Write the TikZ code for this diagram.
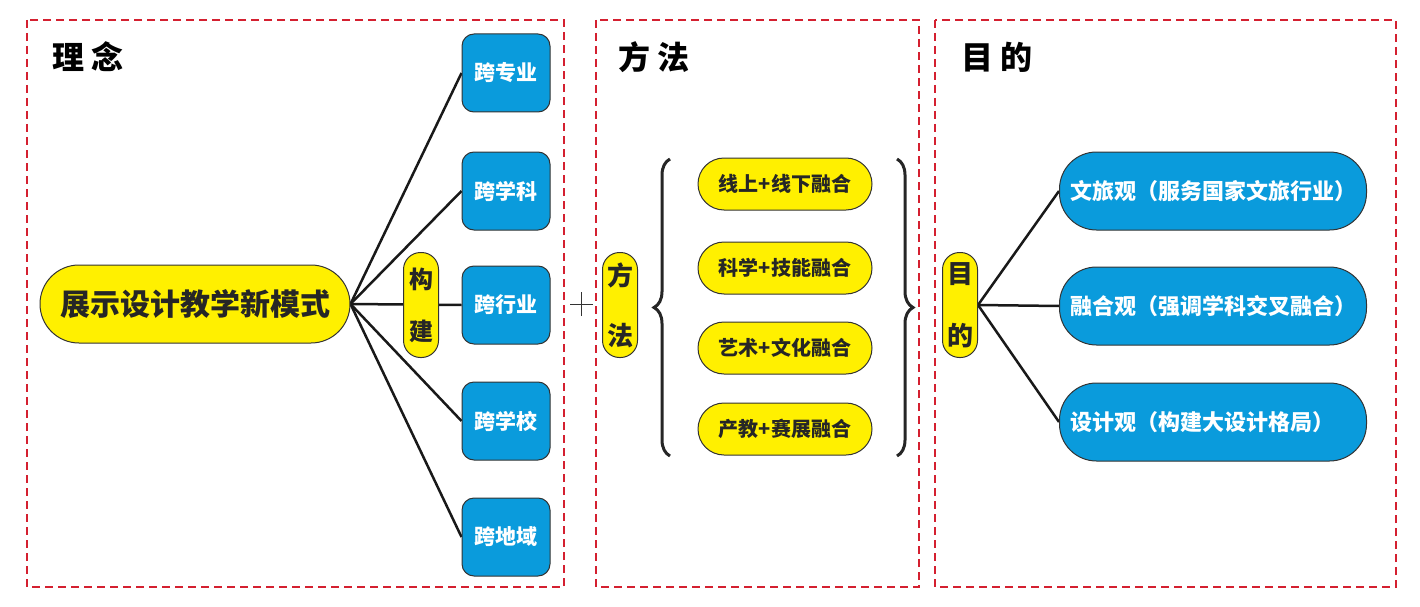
\documentclass[tikz,border=0pt]{standalone}
\usepackage{fontspec}
\setmainfont{Noto Sans CJK SC}[BoldFont={Noto Sans CJK SC Bold}]
\newfontfamily\heavy{Noto Sans CJK SC Black}
\usetikzlibrary{decorations.pathreplacing,backgrounds}
\definecolor{ylw}{HTML}{FFF000}
\definecolor{blu}{HTML}{0A9BDC}
\definecolor{dred}{HTML}{D42030}
\definecolor{edge}{HTML}{333333}
\tikzset{
  frame/.style={draw=dred, line width=2pt, dash pattern=on 8pt off 5pt},
  title/.style={font=\heavy\fontsize{32}{32}\selectfont, text=black, inner sep=0},
  ypill/.style={fill=ylw, draw=edge, line width=1pt, inner sep=0, text=black!85},
  bbox/.style={fill=blu, draw=edge, line width=1pt, inner sep=0, text=white,
    minimum width=88pt, minimum height=78pt, rounded corners=12pt,
    font=\heavy\fontsize{21}{21}\selectfont},
  rpill/.style={fill=blu, draw=edge, line width=1pt, inner sep=0, text=white,
    minimum width=307pt, minimum height=78pt, rounded corners=37pt},
  mpill/.style={ypill, minimum width=174pt, minimum height=52pt, rounded corners=26pt,
    font=\heavy\fontsize{20}{20}\selectfont},
  vpill/.style={ypill, minimum width=35pt, minimum height=105pt, rounded corners=17pt,
    align=center},
  conn/.style={draw=black!90, line width=2.5pt},
  bracestyle/.style={draw=black!85, line width=3pt, decorate,
    decoration={brace, amplitude=16pt, aspect=0.5}},
  rtext/.style={text=white, font=\heavy\fontsize{22}{22}\selectfont, inner sep=0, anchor=west}
}
\begin{document}
\begin{tikzpicture}[x=1pt, y=-1pt]
\useasboundingbox (0,0) rectangle (1420,607);
% frames
\draw[frame] (27,20) rectangle (564,587);
\draw[frame] (596,20) rectangle (919,587);
\draw[frame] (935,20) rectangle (1396,587);
% titles
\node[title] (t1) at (88,57) {理 念};
\node[title] (t2) at (654,57) {方 法};
\node[title] (t3) at (997,57) {目 的};
% left part
\node[ypill, minimum width=310pt, minimum height=78pt, rounded corners=39pt,
  font=\heavy\fontsize{30}{30}\selectfont] (main) at (195,304) {展示设计教学新模式};
\node[vpill, font=\heavy\fontsize{24}{52}\selectfont] (gj) at (421,305) {构\\建};
\node[bbox] (b1) at (506,73) {跨专业};
\node[bbox] (b2) at (506,191) {跨学科};
\node[bbox] (b3) at (506,305) {跨行业};
\node[bbox] (b4) at (506,421) {跨学校};
\node[bbox] (b5) at (506,537) {跨地域};
\begin{pgfonlayer}{background}
\foreach \b in {b1,b2,b3,b4,b5} \draw[conn] (main.east) -- (\b.west);
\end{pgfonlayer}
% plus
\coordinate (pl) at (581,304);
\draw[line width=1pt, black!80] ([xshift=-11pt]pl) -- ([xshift=12pt]pl)
  ([yshift=-12pt]pl) -- ([yshift=12pt]pl);
% middle part
\node[vpill, font=\heavy\fontsize{26}{60}\selectfont] (ff) at (620,305) {方\\法};
\node[mpill] (m1) at (785,184) {线上+线下融合};
\node[mpill] (m2) at (785,268) {科学+技能融合};
\node[mpill] (m3) at (785,348) {艺术+文化融合};
\node[mpill] (m4) at (785,429) {产教+赛展融合};
\coordinate (lb1) at (670,456);
\coordinate (lb2) at (670,159);
\coordinate (rb1) at (897,159);
\coordinate (rb2) at (897,456);
\draw[bracestyle] (lb1) -- (lb2);
\draw[bracestyle] (rb1) -- (rb2);
% right part
\node[vpill, font=\heavy\fontsize{26}{62}\selectfont] (md) at (960,305) {目\\的};
\node[rpill] (r1) at (1213,191) {};
\node[rpill] (r2) at (1213,306) {};
\node[rpill] (r3) at (1213,422) {};
\node[rtext] (r1t) at ([xshift=11pt]r1.west) {文旅观（服务国家文旅行业）};
\node[rtext] (r2t) at ([xshift=11pt]r2.west) {融合观（强调学科交叉融合）};
\node[rtext] (r3t) at ([xshift=11pt]r3.west) {设计观（构建大设计格局）};
\begin{pgfonlayer}{background}
\foreach \r in {r1,r2,r3} \draw[conn] (md.east) -- (\r.west);
\end{pgfonlayer}
\end{tikzpicture}
\end{document}
